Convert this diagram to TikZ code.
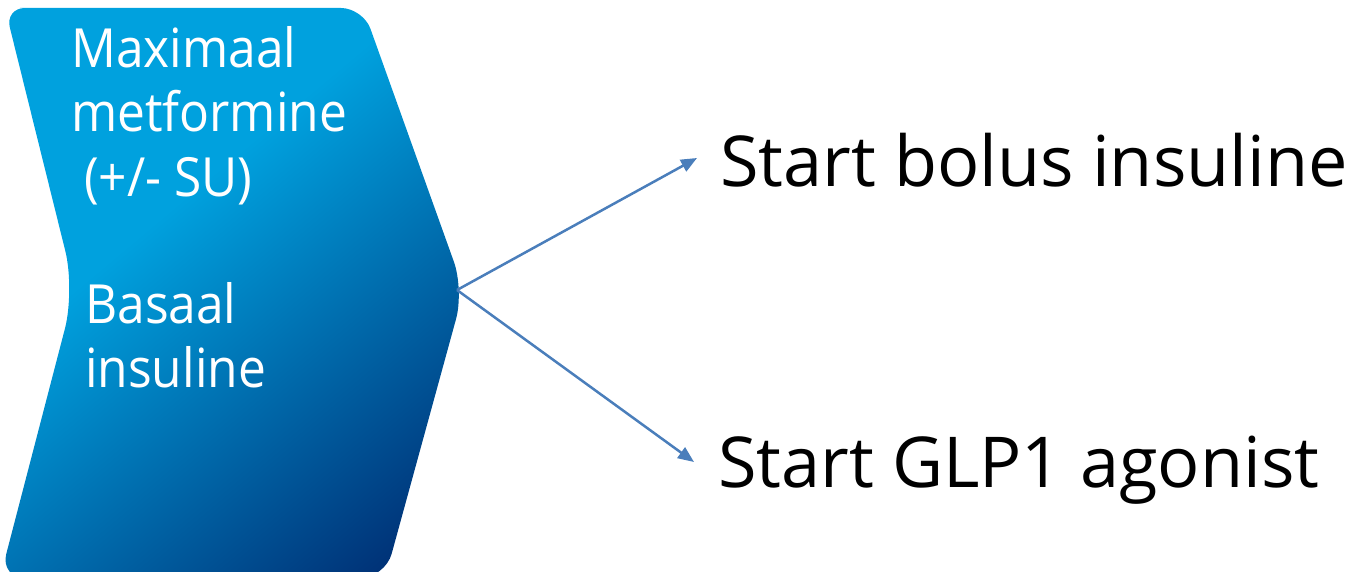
\documentclass[tikz,border=0pt]{standalone}
\usepackage{fontspec}
\setmainfont{Open Sans}
\newfontfamily\chevfont{Open Sans}[FakeStretch=0.92]
\usetikzlibrary{arrows.meta}
\definecolor{lightblue}{RGB}{0,161,222}
\definecolor{darkblue}{RGB}{0,38,108}
\definecolor{arrowblue}{RGB}{74,126,187}
\pgfdeclarehorizontalshading{chevshade}{100bp}{color(0bp)=(lightblue); color(40bp)=(lightblue); color(84bp)=(darkblue); color(100bp)=(darkblue)}
\tikzset{
  chevron/.style={shading=chevshade, shading angle=-50},
  lefttext/.style={text=white, anchor=base west, inner sep=0pt, font=\chevfont\fontsize{54}{65}\selectfont},
  righttext/.style={text=black, anchor=base west, inner sep=0pt, font=\fontsize{70.2}{84}\selectfont},
  flow/.style={draw=arrowblue, line width=2.5pt, -{Triangle[length=16pt,width=13pt]}}
}
\begin{document}
\begin{tikzpicture}[x=1pt,y=-1pt]
\useasboundingbox (0,0) rectangle (1352,572);
\shade[chevron]
  (40,8) [rounded corners=22pt] -- (363,8) [rounded corners=30pt] -- (464,290) [rounded corners=25pt] -- (385,578) -- (0,578) [rounded corners=40pt] -- (75,290) [rounded corners=20pt] -- (5,8) -- cycle;
\node[lefttext] (l1) at (71,68) {Maximaal};
\node[lefttext] (l2) at (71,132) {metformine};
\node[lefttext] (l3) at (71,197) {\ (+/- SU)};
\node[lefttext] (l4) at (85,323) {Basaal};
\node[lefttext] (l5) at (85,387) {insuline};
\coordinate (tip) at (457,290);
\coordinate (e1) at (697,158);
\coordinate (e2) at (694,462);
\node[righttext] (bolus) at (720,187) {Start bolus insuline};
\node[righttext] (glp) at (718,487) {Start GLP1 agonist};
\draw[flow] (tip) -- (e1);
\draw[flow] (tip) -- (e2);
\end{tikzpicture}
\end{document}
